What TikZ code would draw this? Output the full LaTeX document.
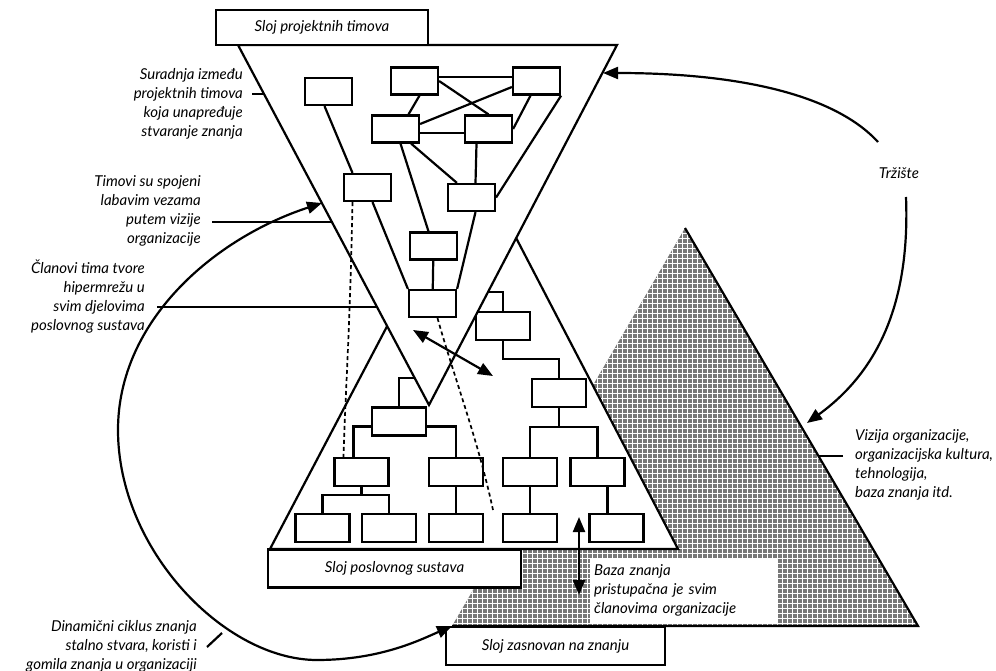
\documentclass[tikz,border=0pt]{standalone}
\usepackage{fontspec}
\setmainfont{Lato}
\usepackage{tikz}
\usetikzlibrary{calc}
\usetikzlibrary{arrows.meta}
\usetikzlibrary{positioning}
\definecolor{hatchgray}{RGB}{120,120,120}
\tikzset{>={Triangle[length=15pt, width=12pt]}}
\tikzset{teambox/.style = {rectangle, draw, fill=white, line width=2.2pt, minimum width=47pt, minimum height=27pt, inner sep=0pt}}
\tikzset{deptbox/.style = {teambox, minimum width=54pt, minimum height=28pt}}
\tikzset{layerbox/.style = {rectangle, draw, fill=white, line width=2.2pt, inner sep=0pt, font=\fontsize{15}{19}\selectfont\itshape}}
\tikzset{note/.style = {inner sep=0pt, align=right, font=\fontsize{15}{19}\selectfont\itshape}}
\tikzset{link/.style = {line width=2.2pt}}
\tikzset{weak/.style = {line width=1.7pt, dash pattern=on 4pt off 3pt}}

\begin{document}
\begin{tikzpicture}[x=1pt, y=-1pt]
\useasboundingbox (0,0) rectangle (996,671);

% knowledge base layer
\begin{scope}
\clip (685,228) -- (452,626) -- (918,626) -- cycle;
\fill [hatchgray] (452,228) rectangle (918,626);
\foreach \k in {0,...,94} \draw [white, line width=0.7pt] (452+5*\k,228) -- (452+5*\k,626);
\foreach \k in {0,...,80} \draw [white, line width=0.7pt] (452,228+5*\k) -- (918,228+5*\k);
\end{scope}
\draw [link] (685,228) -- (918,626) -- (452,626);

\node [note, align=left, fill=white, anchor=north west, text width=180pt, inner sep=4pt, minimum height=65pt] (access) at (590,558) {Baza znanja\\ pristupačna je svim\\ članovima organizacije};

% business system layer
\draw [link, fill=white] (475,159) -- (678,549) -- (270,549) -- cycle;

\node [deptbox] (LT) at (399,421.5) {};
\node [deptbox] (L2a) at (361.5,472) {};
\node [deptbox] (L2b) at (456,472) {};
\node [deptbox] (L3a) at (322.5,528) {};
\node [deptbox] (L3b) at (389,528) {};
\node [deptbox] (L3c) at (456,528) {};
\node [deptbox] (R1) at (503,326) {};
\node [deptbox] (R2) at (559,393) {};
\node [deptbox] (R3a) at (530,472) {};
\node [deptbox] (R3b) at (597.5,472) {};
\node [deptbox] (R4a) at (530,528) {};
\node [deptbox] (R4b) at (616.5,528) {};

\coordinate (ltUp) at (440,378);
\coordinate (r1Up) at (470,292);
\draw [link] (LT.north) |- (ltUp);
\draw [link] (R1.north) |- (r1Up);
\draw [link] ([yshift=-5pt]LT.west) -| ([xshift=-8pt]L2a.north);
\draw [link] ([yshift=-5pt]LT.east) -| (L2b.north);
\draw [link] (L2a.south) -- ([yshift=-8pt]L2a.south);
\draw [link] (L3a.north) |- ([yshift=-8pt]L2a.south) -| (L3b.north);
\draw [link] (L2b) -- (L3c);
\draw [link] (R1.south) |- ([yshift=19pt]R2.north) -- (R2.north);
\draw [link] (R2.south) -- ([yshift=-19pt]R2.south);
\draw [link] (R3a.north) |- ([yshift=-19pt]R2.south) -| (R3b.north);
\draw [link] (R3a) -- (R4a);
\draw [link] ($(R3b.south)+(10,0)$) -- ($(R4b.north)+(-9,0)$);

% project team layer
\draw [link, fill=white] (238,45) -- (617,45) -- (429,405) -- cycle;

\node [teambox] (B1) at (328.5,91.5) {};
\node [teambox] (B2) at (414.5,81) {};
\node [teambox] (B3) at (536.5,81) {};
\node [teambox] (B4) at (395.5,129) {};
\node [teambox] (B5) at (488.5,129) {};
\node [teambox] (B6) at (367.5,187.5) {};
\node [teambox] (B7) at (471.5,197.5) {};
\node [teambox] (B8) at (433.5,246) {};
\node [teambox] (B9) at (432.5,303.5) {};

\draw [link] ([yshift=4pt]B2.east) -- ([yshift=4pt]B3.west);
\draw [link] (B2.east) -- (B5.north);
\draw [link] ([yshift=-6pt]B3.west) -- ([yshift=5pt]B4.east);
\draw [link] ([xshift=5pt]B2.south) -- ([xshift=13pt]B4.north);
\draw [link] ([xshift=-6pt]B3.south) -- (B5.east);
\draw [link] ([yshift=-4pt]B4.east) -- ([yshift=-4pt]B5.west);
\draw [link] ([xshift=5pt]B4.south) -- ([xshift=-5pt]B8.north);
\draw [link] ([xshift=-9pt]B4.south east) -- ([xshift=10pt]B7.north west);
\draw [link] ([xshift=-12pt]B5.south) -- ([xshift=4pt]B7.north);
\draw [link] (B3.south east) -- (B7.east);
\draw [link] ([xshift=-4pt]B1.south) -- ([xshift=-15pt]B6.north);
\draw [link] ([xshift=5pt]B6.south) -- (B9.north west);
\draw [link] (B8) -- (B9);
\draw [link] ([xshift=4pt]B7.south) -- (B9.north east);

% members in both layers
\coordinate (dEnd) at (493,510);
\draw [weak] ([xshift=-15pt]B6.south) .. controls (350,330) and (345,400) .. ([xshift=-18pt]L2a.north);
\draw [weak] ([xshift=5pt]B9.south) .. controls (455,380) and (478,440) .. (dEnd);

\coordinate (xA) at (413,330);
\coordinate (xB) at (493,376);
\draw [link, <->] (xA) -- (xB);
\coordinate (kA) at (579,517);
\coordinate (kB) at (579,595);
\draw [link, <->] (kA) -- (kB);

% layer names
\node [layerbox, minimum width=212pt, minimum height=35pt] (teams) at (322,27.5) {Sloj projektnih timova};
\node [layerbox, minimum width=253pt, minimum height=38pt] (business) at (394.5,568.5) {Sloj poslovnog sustava};
\node [layerbox, minimum width=219pt, minimum height=38pt] (knowledge) at (555.5,646) {Sloj zasnovan na znanju};

% notes
\node [note, anchor=east] (coop) at (243,104) {Suradnja između\\ projektnih timova\\ koja unapređuje\\ stvaranje znanja};
\node [note, anchor=east] (loose) at (201,211) {Timovi su spojeni\\ labavim vezama\\ putem vizije\\ organizacije};
\node [note, anchor=east] (members) at (145,297) {Članovi tima tvore\\ hipermrežu u\\ svim djelovima\\ poslovnog sustava};
\node [note, anchor=east] (cycle) at (197,646) {Dinamični ciklus znanja\\ stalno stvara, koristi i\\ gomila znanja u organizaciji};
\node [note, anchor=west, align=left] (vision) at (855,465) {Vizija organizacije,\\ organizacijska kultura,\\ tehnologija,\\ baza znanja itd.};
\node [note] (market) at (899,173) {Tržište};

\coordinate (coopEdge) at (264,94);
\coordinate (looseEdge) at (332,222);
\coordinate (membersEdge) at (377,307);
\coordinate (visionEdge) at (819,456);
\coordinate (cycleHit) at (222,633);
\draw [link] ($(coop.east |- coopEdge)+(9,0)$) -- (coopEdge);
\draw [link] ($(loose.east |- looseEdge)+(11,0)$) -- (looseEdge);
\draw [link] ($(members.east |- membersEdge)+(12,0)$) -- (membersEdge);
\draw [link] ($(vision.west |- visionEdge)+(-12,0)$) -- (visionEdge);
\draw [link] ($(cycle.east)+(10,1)$) -- (cycleHit);

% market
\coordinate (mktUp) at (878,142);
\coordinate (mktDown) at (906,197);
\coordinate (topEdge) at (603,73);
\coordinate (kbEdge) at (807,423);
\draw [link, ->] (mktUp) .. controls (835,95) and (740,73) .. (topEdge);
\draw [link, ->] (mktDown) .. controls (910,300) and (880,370) .. (kbEdge);

% knowledge cycle
\coordinate (visionIn) at (322,203);
\coordinate (kbCorner) at (452,626);
\draw [link, <->] (visionIn) .. controls (215,238) and (118,320) .. (118,430) .. controls (118,550) and (225,660) .. (317,660) .. controls (380,660) and (420,640) .. (kbCorner);
\end{tikzpicture}
\end{document}
